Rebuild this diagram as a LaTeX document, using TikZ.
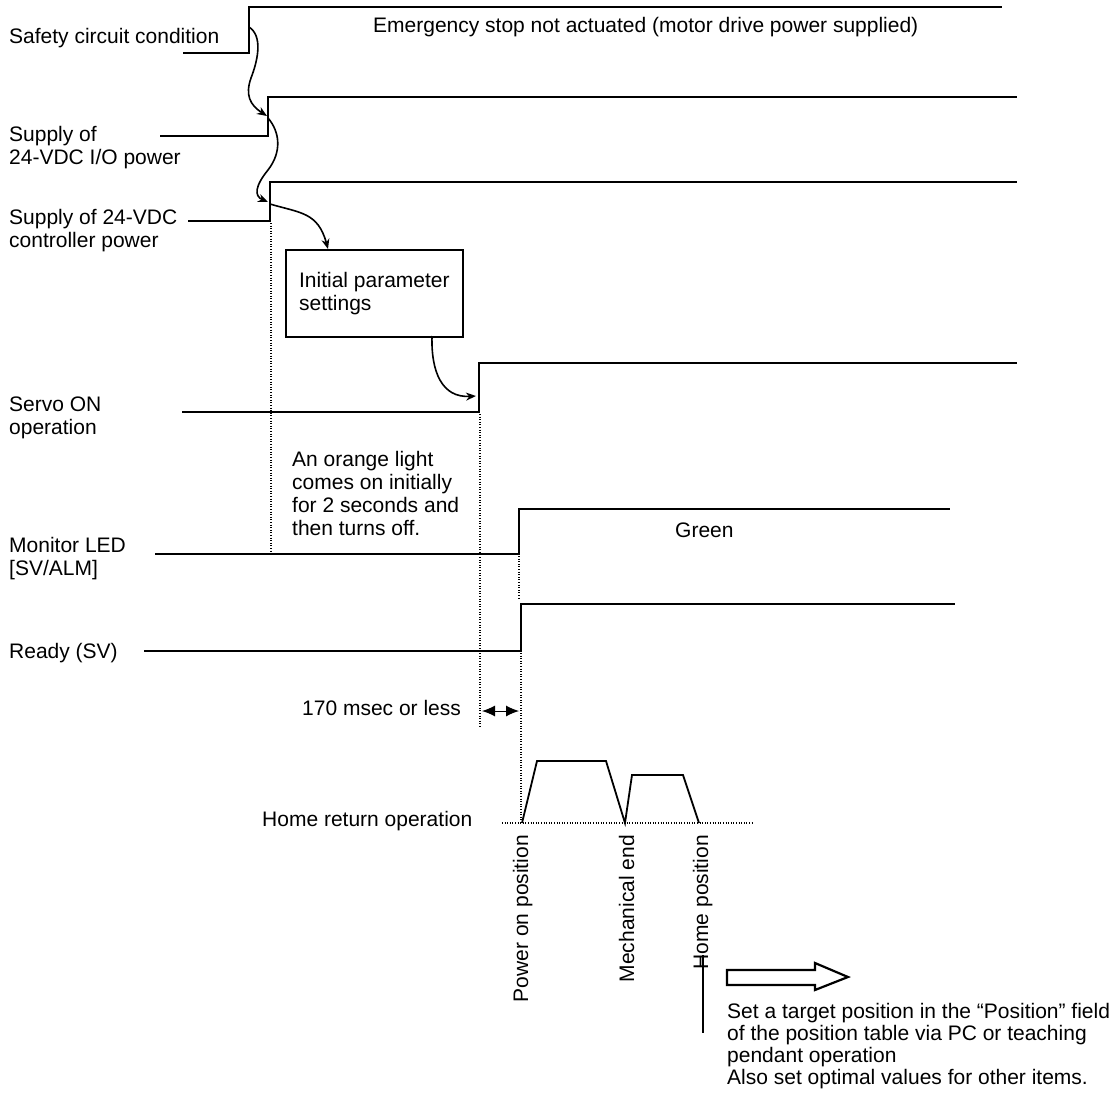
\documentclass[tikz,border=0pt]{standalone}
\usepackage{fontspec}
\setmainfont{Liberation Sans}
\usetikzlibrary{arrows.meta}

\tikzset{
  signal/.style={line width=2pt},
  flow/.style={line width=1.6pt, -{Stealth[length=10pt,width=8pt]}},
  guide/.style={line width=1.1pt, dash pattern=on 1pt off 1.6pt},
  lbl/.style={inner sep=0pt, anchor=base west, align=left},
  vlbl/.style={inner sep=0pt, anchor=base east, rotate=90},
}

\begin{document}
\begin{tikzpicture}[x=1pt, y=-1pt, font=\fontsize{21}{23}\selectfont]
\useasboundingbox (0,0) rectangle (1120,1095);

% signal names (multi-line nodes sit on their last line)
\node[lbl] (safety) at (9,43) {Safety circuit condition};
\node[lbl] (iopower) at (9,164) {Supply of\\24-VDC I/O power};
\node[lbl] (ctrlpower) at (9,247) {Supply of 24-VDC\\controller power};
\node[lbl] (servo) at (9,434) {Servo ON\\operation};
\node[lbl] (monitor) at (9,575) {Monitor LED\\{[SV/ALM]}};
\node[lbl] (ready) at (9,658) {Ready (SV)};
\node[lbl] (homeret) at (262,826) {Home return operation};

% notes
\node[lbl] (estop) at (373,32) {Emergency stop not actuated (motor drive power supplied)};
\node[lbl] (orange) at (292,535) {An orange light\\comes on initially\\for 2 seconds and\\then turns off.};
\node[lbl] (green) at (675,537) {Green};
\node[lbl] (delay) at (302,715) {170 msec or less};
\node[rectangle, draw, line width=1.8pt, anchor=north west, minimum width=177pt,
  minimum height=87pt, align=left, inner sep=0pt] (params) at (285,249)
  {Initial parameter\\settings};

% waveforms
\draw[signal] (183,53) -- (249,53) -- (249,7) -- (1002,7);
\draw[signal] (160,136) -- (268,136) -- (268,97) -- (1017,97);
\draw[signal] (188,221) -- (270,221) -- (270,182) -- (1017,182);
\draw[signal] (182,412) -- (479,412) -- (479,363) -- (1017,363);
\draw[signal] (155,554) -- (519,554) -- (519,509) -- (950,509);
\draw[signal] (144,651) -- (521,651) -- (521,604) -- (955,604);

% timing guides
\draw[guide] (271,223) -- (271,554);
\draw[guide] (480,414) -- (480,727);
\draw[guide] (519,556) -- (519,598);
\draw[guide] (521,653) -- (521,823);
\draw[guide] (502,823) -- (753,823);

% sequence arrows
\coordinate (s1) at (249,27);
\coordinate (s2) at (267,116);
\coordinate (s3) at (268,118);
\coordinate (s4) at (268,202);
\coordinate (s5) at (270,204);
\coordinate (s6) at (328,249);
\coordinate (s7) at (432,336);
\coordinate (s8) at (476,396);
\draw[flow] (s1) .. controls (263,36) and (258,60) .. (251,78)
  .. controls (245,95) and (250,105) .. (s2);
\draw[flow] (s3) .. controls (280,132) and (282,152) .. (268,170)
  .. controls (255,186) and (254,196) .. (s4);
\draw[flow] (s5) .. controls (300,213) and (318,212) .. (s6);
\draw[flow] (s7) .. controls (431,372) and (442,398) .. (s8);

% 170 msec
\coordinate (t1) at (482,711);
\coordinate (t2) at (519,711);
\draw[line width=1pt, {Latex[length=13pt,width=11pt]}-{Latex[length=13pt,width=11pt]}] (t1) -- (t2);

% home return profile
\draw[line width=1.8pt] (522,823) -- (537,761) -- (606,761) -- (625,823)
  -- (632,775) -- (683,775) -- (699,823);
\node[vlbl] (poweron) at (528,835) {Power on position};
\node[vlbl] (mechend) at (634,835) {Mechanical end};
\node[vlbl] (homepos) at (708,835) {Home position};
\draw[line width=1.5pt] (703,955) -- (703,1033);

% next step
\draw[line width=2.2pt] (727,970) -- (815,970) -- (815,963) -- (848,977)
  -- (815,990) -- (815,985) -- (727,985) -- cycle;
\node[lbl, font=\fontsize{21}{22}\selectfont] (nextstep) at (727,1084)
  {Set a target position in the “Position” field\\of the position table via PC or teaching\\pendant operation\\Also set optimal values for other items.};
\end{tikzpicture}
\end{document}
